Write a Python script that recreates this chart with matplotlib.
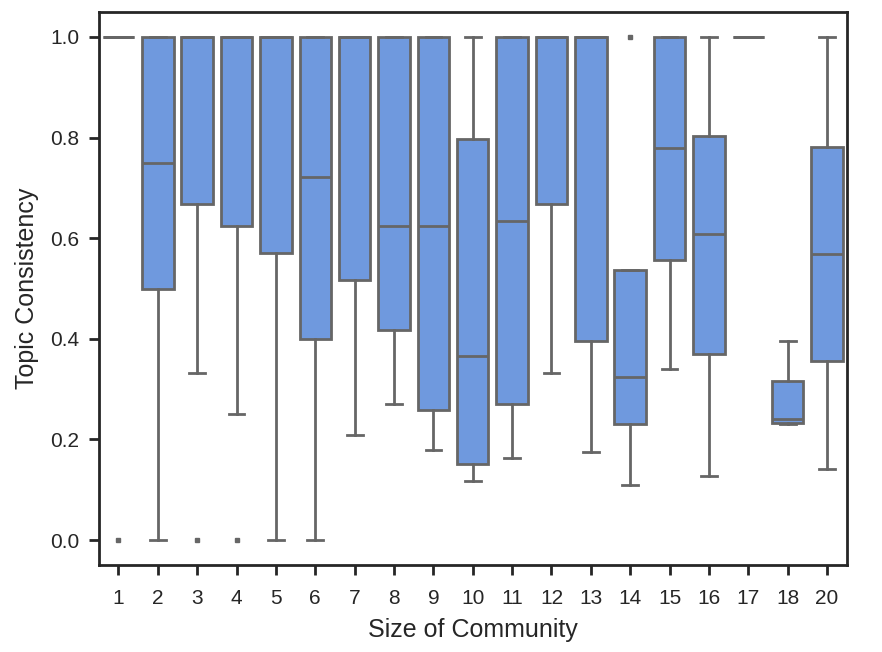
import matplotlib
matplotlib.use("Agg")
import matplotlib.pyplot as plt

plt.rcParams['font.family'] = ['Liberation Sans', 'DejaVu Sans']

categories = ["1", "2", "3", "4", "5", "6", "7", "8", "9", "10",
              "11", "12", "13", "14", "15", "16", "17", "18", "20"]
q1 =      [1.0, 0.50, 0.667, 0.625, 0.571, 0.40, 0.517, 0.417, 0.259, 0.152,
           0.271, 0.667, 0.396, 0.230, 0.556, 0.370, 1.0, 0.232, 0.356]
medians = [1.0, 0.75, 1.0, 1.0, 1.0, 0.721, 1.0, 0.625, 0.625, 0.366,
           0.634, 1.0, 1.0, 0.325, 0.780, 0.608, 1.0, 0.240, 0.568]
q3 =      [1.0, 1.0, 1.0, 1.0, 1.0, 1.0, 1.0, 1.0, 1.0, 0.798,
           1.0, 1.0, 1.0, 0.537, 1.0, 0.804, 1.0, 0.317, 0.782]
whislo =  [1.0, 0.0, 0.333, 0.251, 0.0, 0.0, 0.208, 0.271, 0.180, 0.117,
           0.164, 0.333, 0.176, 0.109, 0.341, 0.127, 1.0, 0.230, 0.141]
whishi =  [1.0, 1.0, 1.0, 1.0, 1.0, 1.0, 1.0, 1.0, 1.0, 1.0,
           1.0, 1.0, 1.0, 0.537, 1.0, 1.0, 1.0, 0.396, 1.0]
fliers =  [[0.0], [], [0.0], [0.0], [], [], [], [], [], [],
           [], [], [], [1.0], [], [], [], [], []]

box_color = '#6f99de'
edge_color = '#666666'

fig = plt.figure(figsize=(8.82, 6.52), dpi=100)
ax = fig.add_axes([0.112, 0.133, 0.848, 0.849])

stats = []
for i, c in enumerate(categories):
    stats.append(dict(label=c, q1=q1[i], med=medians[i], q3=q3[i],
                      whislo=whislo[i], whishi=whishi[i], fliers=fliers[i]))

ax.bxp(stats, positions=range(len(categories)), widths=0.8, capwidths=0.4,
       patch_artist=True,
       boxprops=dict(facecolor=box_color, edgecolor=edge_color, linewidth=2),
       medianprops=dict(color=edge_color, linewidth=2),
       whiskerprops=dict(color=edge_color, linewidth=2),
       capprops=dict(color=edge_color, linewidth=2),
       flierprops=dict(marker='s', markersize=2.5, markerfacecolor=edge_color,
                       markeredgecolor=edge_color))

ax.set_xlim(-0.5, len(categories) - 0.5)
ax.set_ylim(-0.05, 1.05)
ax.set_yticks([0.0, 0.2, 0.4, 0.6, 0.8, 1.0])
ax.set_yticklabels(["0.0", "0.2", "0.4", "0.6", "0.8", "1.0"])
ax.set_xticks(range(len(categories)))
ax.set_xticklabels(categories)
for s in ax.spines.values():
    s.set_linewidth(2)
    s.set_color('#262626')
ax.tick_params(axis='both', length=7, width=2, color='#262626',
               labelsize=15, labelcolor='#262626')
ax.tick_params(axis='y', pad=7)
ax.tick_params(axis='x', pad=10)
ax.set_xlabel("Size of Community", fontsize=18, color='#262626', labelpad=7)
ax.set_ylabel("Topic Consistency", fontsize=18, color='#262626', labelpad=8)

fig.savefig("out.png", dpi=100)
